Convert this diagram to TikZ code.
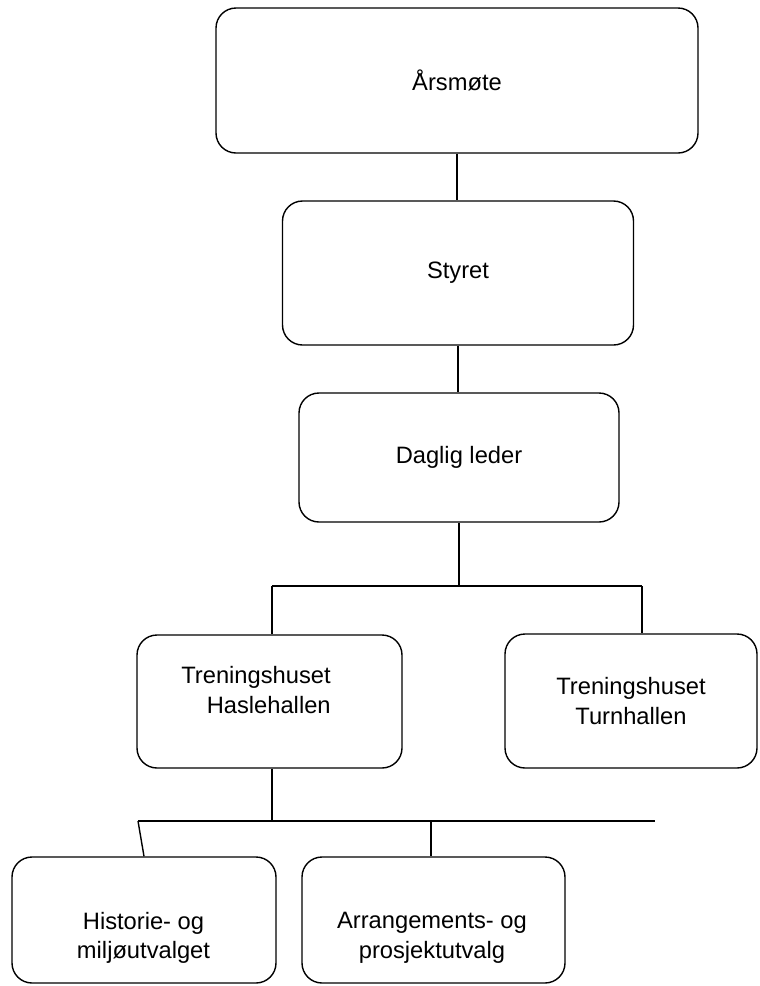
\documentclass[tikz,border=0pt]{standalone}
\usepackage{fontspec}
\setmainfont{Liberation Sans}
\begin{document}
\begin{tikzpicture}[x=1pt,y=-1pt,
  orgbox/.style={draw=black, line width=1.4pt, rounded corners=20pt, inner sep=0pt, align=center},
  lbl/.style={inner sep=0pt},
  conn/.style={draw=black, line width=1.4pt},
  every node/.append style={font=\fontsize{23.7}{29.5}\selectfont}]
\useasboundingbox[fill=white] (0,0) rectangle (760,986);
% boxes
\node[orgbox, minimum width=482pt, minimum height=145pt] (a) at (457,80.5) {Årsmøte};
\node[orgbox, minimum width=351pt, minimum height=144pt] (b) at (458,273) {Styret};
\node[orgbox, minimum width=320pt, minimum height=129pt] (c) at (459,457.5) {Daglig leder};
\node[orgbox, minimum width=265pt, minimum height=133pt] (d) at (269.5,701.5) {};
\node[lbl, align=right] (dt) at (256,690) {Treningshuset\\Haslehallen};
\node[orgbox, minimum width=252pt, minimum height=134pt] (e) at (631,701) {Treningshuset\\Turnhallen};
\node[orgbox, minimum width=264pt, minimum height=126pt] (f) at (144,920) {};
\node[lbl, align=center] (ft) at (143.5,938) {Historie- og\\miljøutvalget};
\node[orgbox, minimum width=263pt, minimum height=126pt] (g) at (433.5,920) {};
\node[lbl, align=center] (gt) at (432,938) {Arrangements- og\\prosjektutvalg};
% junctions
\coordinate (jL) at (272,586);
\coordinate (jR) at (642,586);
\coordinate (k0) at (272,821);
\coordinate (kL) at (138,821);
\coordinate (kM) at (431,821);
\coordinate (kR) at (655,821);
% connectors
\draw[conn] (a.south) -- (a.south |- b.north);
\draw[conn] (b.south) -- (b.south |- c.north);
\draw[conn] (c.south) -- (c.south |- jL);
\draw[conn] (jL) -- (jR);
\draw[conn] (jL) -- (jL |- d.north);
\draw[conn] (jR) -- (jR |- e.north);
\draw[conn] (k0 |- d.south) -- (k0);
\draw[conn] (kL) -- (kR);
\draw[conn] (kL) -- (f.north);
\draw[conn] (kM) -- (kM |- g.north);
\end{tikzpicture}
\end{document}
